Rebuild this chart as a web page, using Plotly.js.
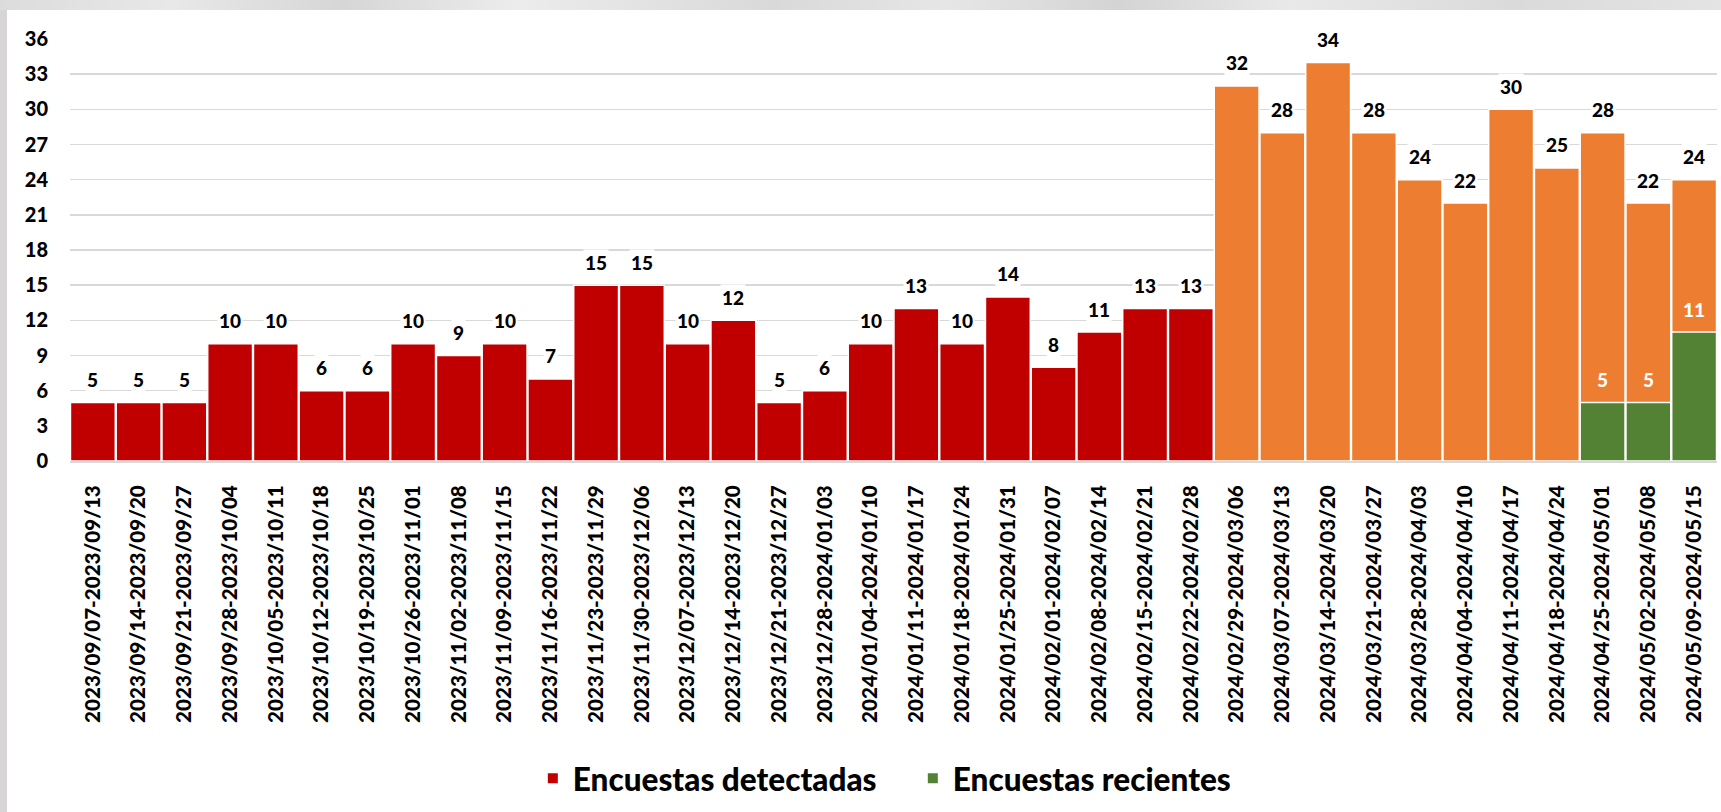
<!DOCTYPE html>
<html>
<head>
<meta charset="utf-8">
<script src="https://cdn.plot.ly/plotly-3.0.1.min.js"></script>
<style>
  html, body { margin: 0; padding: 0; width: 1721px; height: 812px; overflow: hidden; background: #d7d5d5; }
  #topstrip { position: absolute; left: 0; top: 0; width: 1721px; height: 10px;
    background: linear-gradient(90deg, #dcdcdc 0%, #e8e8e8 10%, #d6d6d6 20%, #ececec 30%, #d9d9d9 45%, #e6e6e6 55%, #d4d4d4 65%, #e9e9e9 75%, #dadada 88%, #e4e4e4 100%); }
  #chart { position: absolute; left: 7px; top: 10px; width: 1714px; height: 802px; background: #fff; }
</style>
</head>
<body>
<div id="topstrip"></div>
<div id="chart"></div>
<script>
const categories = [
  "2023/09/07-2023/09/13","2023/09/14-2023/09/20","2023/09/21-2023/09/27","2023/09/28-2023/10/04",
  "2023/10/05-2023/10/11","2023/10/12-2023/10/18","2023/10/19-2023/10/25","2023/10/26-2023/11/01",
  "2023/11/02-2023/11/08","2023/11/09-2023/11/15","2023/11/16-2023/11/22","2023/11/23-2023/11/29",
  "2023/11/30-2023/12/06","2023/12/07-2023/12/13","2023/12/14-2023/12/20","2023/12/21-2023/12/27",
  "2023/12/28-2024/01/03","2024/01/04-2024/01/10","2024/01/11-2024/01/17","2024/01/18-2024/01/24",
  "2024/01/25-2024/01/31","2024/02/01-2024/02/07","2024/02/08-2024/02/14","2024/02/15-2024/02/21",
  "2024/02/22-2024/02/28","2024/02/29-2024/03/06","2024/03/07-2024/03/13","2024/03/14-2024/03/20",
  "2024/03/21-2024/03/27","2024/03/28-2024/04/03","2024/04/04-2024/04/10","2024/04/11-2024/04/17",
  "2024/04/18-2024/04/24","2024/04/25-2024/05/01","2024/05/02-2024/05/08","2024/05/09-2024/05/15"
];
const detectadas = [5,5,5,10,10,6,6,10,9,10,7,15,15,10,12,5,6,10,13,10,14,8,11,13,13,32,28,34,28,24,22,30,25,28,22,24];
const recientes = [null,null,null,null,null,null,null,null,null,null,null,null,null,null,null,null,null,null,null,null,null,null,null,null,null,null,null,null,null,null,null,null,null,5,5,11];
const yTicks = [0,3,6,9,12,15,18,21,24,27,30,33,36];

const RED = "#C00000", ORANGE = "#ED7D31", GREEN = "#548235";
const highlightFrom = categories.indexOf("2024/02/29-2024/03/06");
const barColors = categories.map((c, i) => i >= highlightFrom ? ORANGE : RED);

const FONT = "Lato, 'Open Sans', sans-serif";

const traces = [
  {
    type: "bar", name: "Encuestas detectadas", x: categories, y: detectadas,
    marker: { color: barColors, line: { color: "#ffffff", width: 1.5 } },
    hoverinfo: "x+y"
  },
  {
    type: "bar", name: "Encuestas recientes", x: categories, y: recientes,
    marker: { color: GREEN, line: { color: "#ffffff", width: 1.5 } },
    hoverinfo: "x+y"
  }
];

const annotations = [];
categories.forEach((c, i) => {
  annotations.push({
    x: c, y: detectadas[i], xref: "x", yref: "y", text: String(detectadas[i]),
    showarrow: false, yshift: 23, bgcolor: "#ffffff", borderpad: 1,
    font: { family: FONT, size: 19, color: "#000", weight: 900 }
  });
  if (recientes[i] !== null) {
    annotations.push({
      x: c, y: recientes[i], xref: "x", yref: "y", text: String(recientes[i]),
      showarrow: false, yshift: 23,
      font: { family: FONT, size: 19, color: "#ffffff", weight: 900 }
    });
  }
});

const layout = {
  width: 1714, height: 802,
  margin: { l: 63, r: 4, t: 29, b: 351 },
  paper_bgcolor: "#ffffff", plot_bgcolor: "#ffffff",
  barmode: "overlay", bargap: 0.02,
  showlegend: true,
  legend: {
    orientation: "h", x: 0.281, xanchor: "left", y: -0.752, yanchor: "middle",
    font: { family: FONT, size: 31.5, color: "#000", weight: 900 },
    itemsizing: "constant", traceorder: "normal", entrywidth: 335
  },
  xaxis: {
    type: "category", tickangle: -90, showgrid: false, zeroline: false,
    showline: true, linecolor: "#d9d9d9", linewidth: 2,
    ticks: "outside", ticklen: 14, tickcolor: "rgba(0,0,0,0)",
    tickfont: { family: FONT, size: 20.6, color: "#000", weight: 900 },
    fixedrange: true
  },
  yaxis: {
    range: [0, 36], tickvals: yTicks, ticktext: yTicks.map(String),
    showgrid: true, gridcolor: "#d9d9d9", gridwidth: 1.5, zeroline: false,
    showline: false, ticks: "outside", ticklen: 17, tickcolor: "rgba(0,0,0,0)",
    tickfont: { family: FONT, size: 20, color: "#000", weight: 900 },
    fixedrange: true
  },
  annotations: annotations
};

Plotly.newPlot("chart", traces, layout, { displayModeBar: false, staticPlot: true });
</script>
</body>
</html>
